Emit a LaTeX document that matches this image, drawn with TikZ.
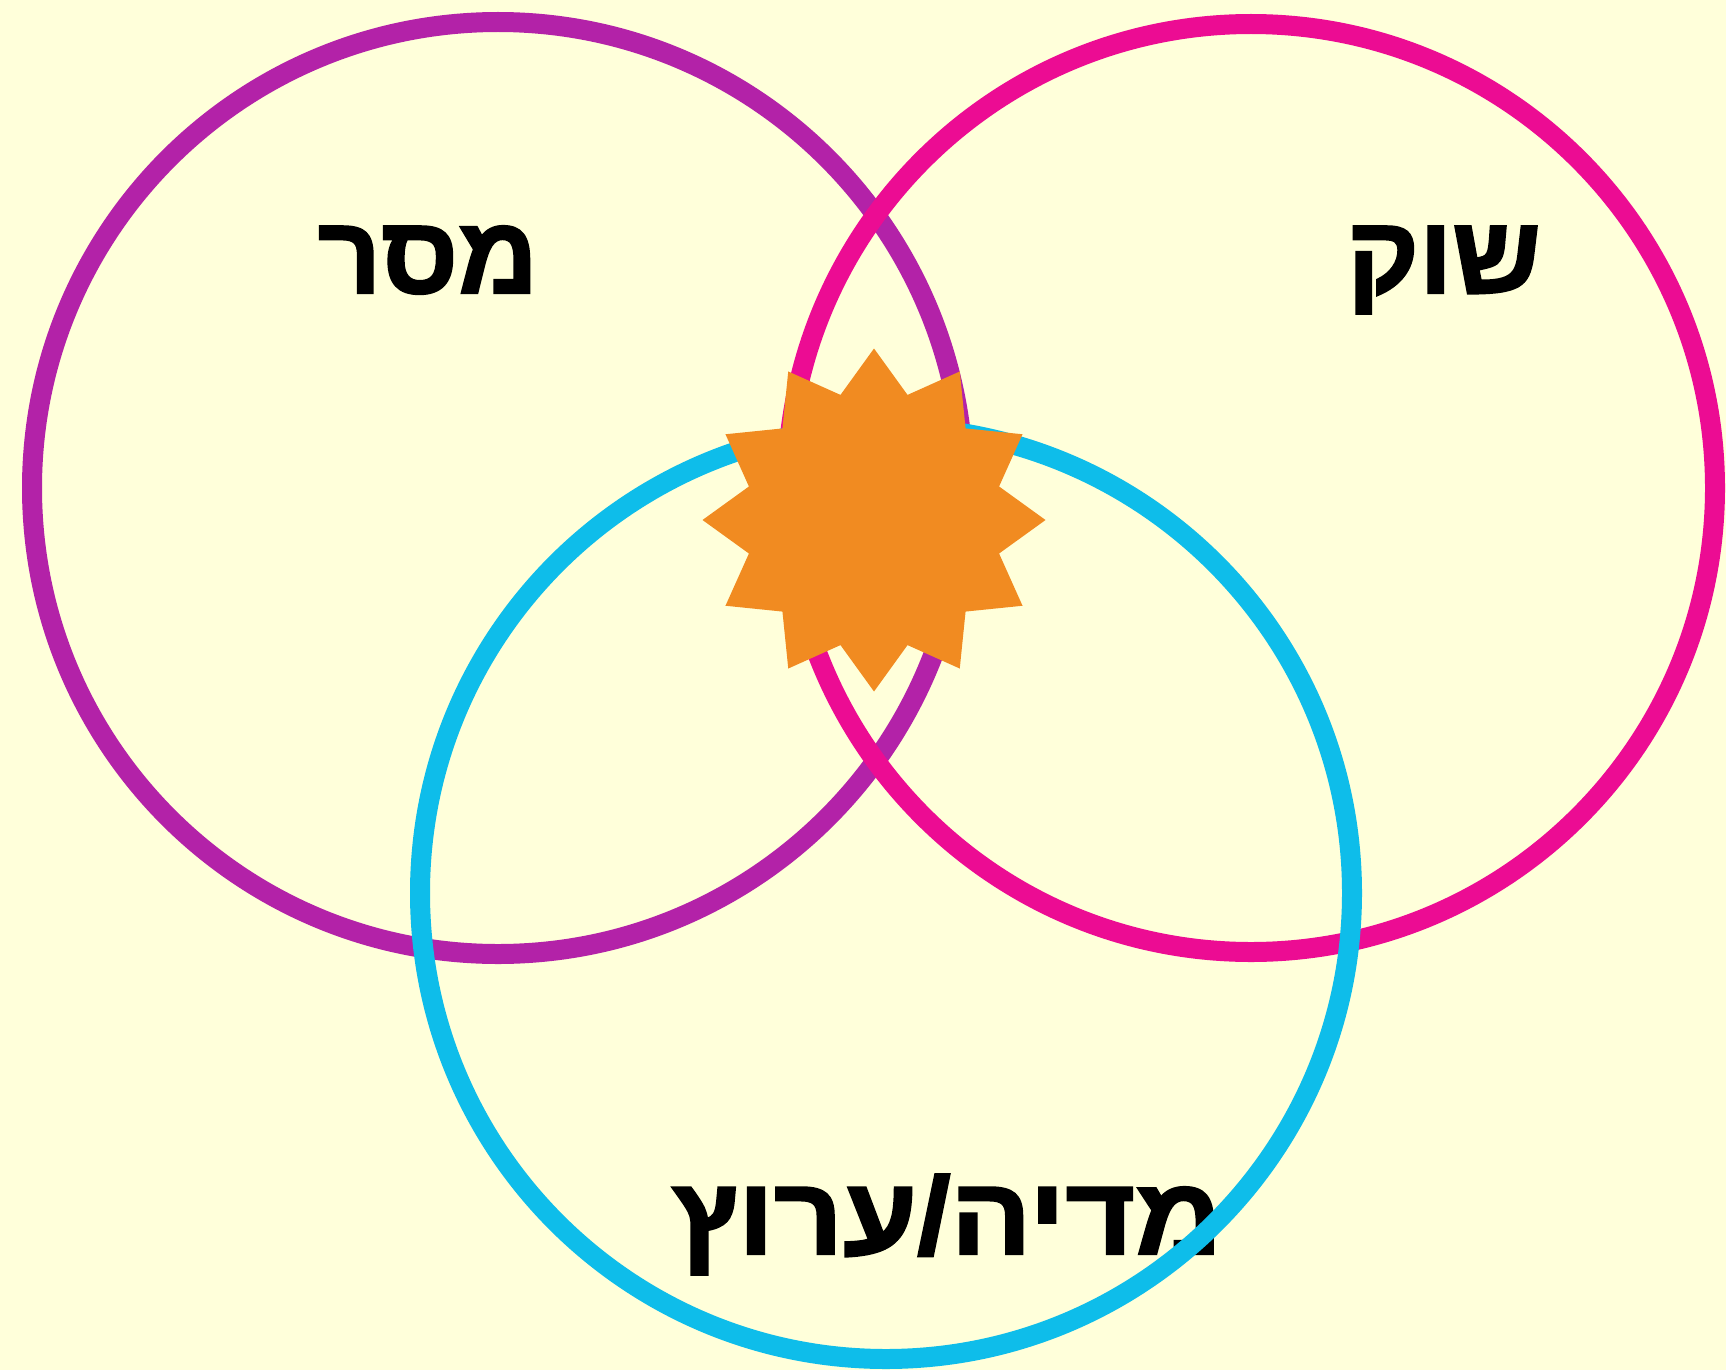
\documentclass[tikz,border=0pt]{standalone}
\usepackage{fontspec}
\TeXXeTstate=1
\newfontfamily\hebfont[Script=Hebrew,BoldFeatures={FakeBold=2}]{Liberation Sans}
\definecolor{bgyellow}{HTML}{FFFFDA}
\definecolor{ringpurple}{HTML}{B322A8}
\definecolor{ringpink}{HTML}{EC0C93}
\definecolor{ringcyan}{HTML}{0EBDEA}
\definecolor{burstorange}{HTML}{F18B21}
\begin{document}
\begin{tikzpicture}[x=1pt,y=-1pt,
  ring/.style={line width=20pt},
  label/.style={anchor=base,inner sep=0pt,font=\hebfont\bfseries\fontsize{110}{110}\selectfont}]
\fill[bgyellow] (0,0) rectangle (1726,1370);
\useasboundingbox (0,0) rectangle (1726,1370);
\node[label] (msg) at (428,293) {\beginR מסר\endR};
\node[label] (mkt) at (1444,293) {\beginR שוק\endR};
\node[label] (med) at (947,1254) {\scalebox{1.09}[1]{\beginR מדיה/ערוץ\endR}};
\draw[ring,ringpurple] (498,488) circle[radius=466];
\draw[ring,ringpink] (1251,488) circle[radius=464];
\draw[ring,ringcyan] (886,893) circle[radius=466];
\fill[burstorange,shift={(874,520)}] (0:171.5)
  \foreach \a in {15,45,...,345}{ -- (\a:129.5) -- (\a+15:171.5)} -- cycle;
\end{tikzpicture}
\end{document}
